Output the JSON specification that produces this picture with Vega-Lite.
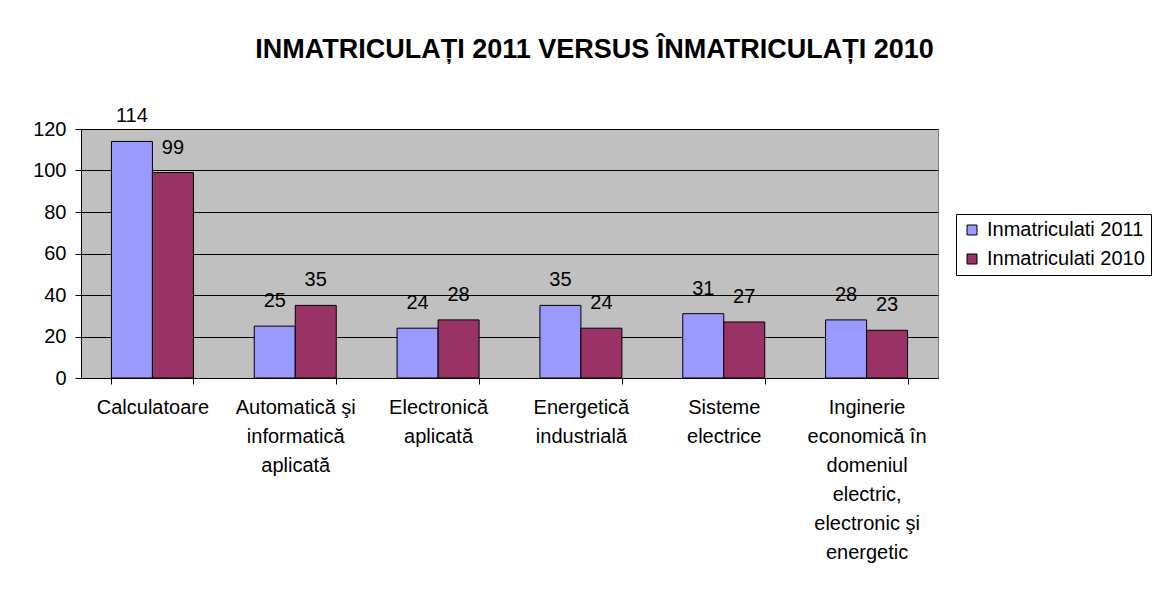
{
  "$schema": "https://vega.github.io/schema/vega-lite/v6.json",
  "autosize": {"type": "none"},
  "width": 857,
  "height": 249,
  "padding": {"left": 81, "top": 129, "right": 217, "bottom": 231},
  "background": "white",
  "title": {
    "text": "INMATRICULAȚI 2011 VERSUS ÎNMATRICULAȚI 2010",
    "font": "Liberation Sans",
    "fontSize": 27,
    "fontWeight": "bold",
    "color": "black",
    "anchor": "middle",
    "frame": "group",
    "baseline": "alphabetic",
    "offset": 21,
    "dx": 85
  },
  "data": {
    "values": [
      {"cat": "Calculatoare", "series": "Inmatriculati 2011", "value": 114},
      {"cat": "Calculatoare", "series": "Inmatriculati 2010", "value": 99},
      {"cat": "Automatică şi|informatică|aplicată", "series": "Inmatriculati 2011", "value": 25},
      {"cat": "Automatică şi|informatică|aplicată", "series": "Inmatriculati 2010", "value": 35},
      {"cat": "Electronică|aplicată", "series": "Inmatriculati 2011", "value": 24},
      {"cat": "Electronică|aplicată", "series": "Inmatriculati 2010", "value": 28},
      {"cat": "Energetică|industrială", "series": "Inmatriculati 2011", "value": 35},
      {"cat": "Energetică|industrială", "series": "Inmatriculati 2010", "value": 24},
      {"cat": "Sisteme|electrice", "series": "Inmatriculati 2011", "value": 31},
      {"cat": "Sisteme|electrice", "series": "Inmatriculati 2010", "value": 27},
      {"cat": "Inginerie|economică în|domeniul|electric,|electronic şi|energetic", "series": "Inmatriculati 2011", "value": 28},
      {"cat": "Inginerie|economică în|domeniul|electric,|electronic şi|energetic", "series": "Inmatriculati 2010", "value": 23}
    ]
  },
  "encoding": {
    "x": {
      "field": "cat",
      "type": "nominal",
      "sort": null,
      "scale": {"paddingInner": 0.426, "paddingOuter": 0.213},
      "axis": {
        "title": null,
        "labelAngle": 0,
        "labelExpr": "split(datum.label, '|')",
        "labelFont": "Liberation Sans",
        "labelFontSize": 20,
        "labelColor": "black",
        "labelLineHeight": 29,
        "labelBaseline": "top",
        "labelPadding": 13,
        "labelLimit": 0,
        "labelOverlap": false,
        "tickBand": "extent",
        "tickSize": 6,
        "tickColor": "black",
        "domainColor": "black",
        "grid": false
      }
    },
    "xOffset": {
      "field": "series",
      "type": "nominal",
      "scale": {"domain": ["Inmatriculati 2011", "Inmatriculati 2010"]}
    },
    "y": {
      "field": "value",
      "type": "quantitative",
      "scale": {"domain": [0, 120]},
      "axis": {
        "title": null,
        "values": [0, 20, 40, 60, 80, 100, 120],
        "labelFont": "Liberation Sans",
        "labelFontSize": 20,
        "labelColor": "black",
        "labelPadding": 9,
        "tickSize": 6,
        "tickColor": "black",
        "domainColor": "black",
        "gridColor": "black",
        "gridOpacity": 1,
        "gridWidth": 1
      }
    }
  },
  "layer": [
    {
      "mark": {"type": "bar", "stroke": "black", "strokeWidth": 1},
      "encoding": {
        "color": {
          "field": "series",
          "type": "nominal",
          "scale": {
            "domain": ["Inmatriculati 2011", "Inmatriculati 2010"],
            "range": ["#9999FF", "#993366"]
          },
          "legend": {
            "title": null,
            "orient": "none",
            "legendX": 875,
            "legendY": 85,
            "strokeColor": "black",
            "fillColor": "white",
            "padding": 6,
            "symbolType": "square",
            "symbolSize": 100,
            "symbolStrokeColor": "black",
            "symbolStrokeWidth": 1,
            "symbolOpacity": 1,
            "labelFont": "Liberation Sans",
            "labelFontSize": 20,
            "labelColor": "black",
            "labelOffset": 5,
            "labelLimit": 0,
            "rowPadding": 9
          }
        }
      }
    },
    {
      "mark": {
        "type": "text",
        "font": "Liberation Sans",
        "fontSize": 20,
        "color": "black",
        "baseline": "alphabetic",
        "dy": -19
      },
      "encoding": {
        "text": {"field": "value", "type": "quantitative"}
      }
    }
  ],
  "config": {
    "view": {"fill": "#C0C0C0", "stroke": "#808080"}
  }
}
